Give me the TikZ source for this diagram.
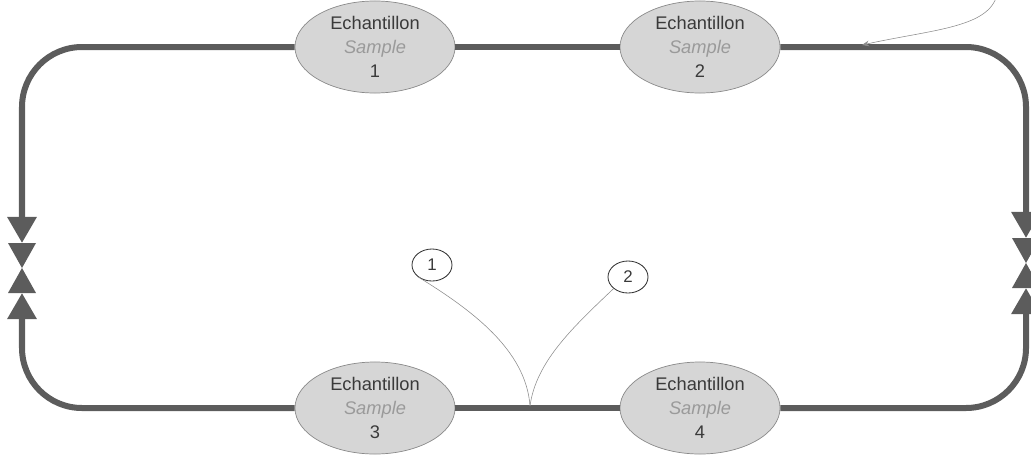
\documentclass[tikz,border=0pt]{standalone}
\usepackage{fontspec}
\setmainfont{Liberation Sans}
\usetikzlibrary{arrows.meta, shapes.geometric}

\definecolor{pipegray}{HTML}{5C5C5C}
\definecolor{samplefill}{HTML}{D6D6D6}
\definecolor{sampleline}{HTML}{8A8A8A}
\definecolor{textdark}{HTML}{3A3A3A}
\definecolor{textlight}{HTML}{9A9A9A}

\begin{document}
\begin{tikzpicture}[x=0.025cm, y=-0.025cm,
    sample/.style={ellipse, fill=samplefill, draw=sampleline, line width=0.5pt,
                   minimum width=4cm, minimum height=2.3cm, inner sep=0pt,
                   align=center, text=textdark,
                   font=\fontsize{13}{17}\selectfont},
    pipe/.style={draw=pipegray, line width=0.15cm, rounded corners=1.5cm},
    pipeend/.style={pipe, -{Triangle[length=0.65cm, width=0.7cm, fill=pipegray]}},
    valve/.style={fill=pipegray},
    tag/.style={ellipse, draw=black!80, line width=0.6pt, minimum width=1.0cm,
                minimum height=0.8cm, inner sep=0pt, text=textdark,
                font=\fontsize{12}{14}\selectfont},
    lead/.style={draw=black!45, line width=0.4pt}
  ]
    \useasboundingbox (0,0) rectangle (1031,461);

    % Samples on the loop
    \node[sample] (s1) at (375, 47)  {Echantillon\\\textcolor{textlight}{\textit{Sample}}\\1};
    \node[sample] (s2) at (700, 47)  {Echantillon\\\textcolor{textlight}{\textit{Sample}}\\2};
    \node[sample] (s3) at (375, 408) {Echantillon\\\textcolor{textlight}{\textit{Sample}}\\3};
    \node[sample] (s4) at (700, 408) {Echantillon\\\textcolor{textlight}{\textit{Sample}}\\4};

    % Valve ends on both sides
    \coordinate (ltop) at (22, 243);
    \coordinate (lmid) at (22, 268);
    \coordinate (lbot) at (22, 293);
    \coordinate (rtop) at (1026, 238);
    \coordinate (rmid) at (1026, 263);
    \coordinate (rbot) at (1026, 288);

    % Callouts
    \node[tag] (t1) at (432, 265) {1};
    \node[tag] (t2) at (628, 277) {2};
    \coordinate (joint) at (530, 406);
    \coordinate (topfree) at (996, -2);
    \coordinate (toptip) at (862, 45);

    % Pipe loop
    \draw[pipe] (s1) -- (s2);
    \draw[pipe] (s3) -- (s4);
    \draw[pipeend] (s1.west) -| (ltop);
    \draw[pipeend] (s3.west) -| (lbot);
    \draw[pipeend] (s2.east) -| (rtop);
    \draw[pipeend] (s4.east) -| (rbot);

    % Valves
    \fill[valve] (ltop) -- ++(-14,0) -- (lmid) -- ++(-14,25) -- ++(28,0) -- (lmid) -- ++(14,-25) -- cycle;
    \fill[valve] (rtop) -- ++(-14,0) -- (rmid) -- ++(-14,25) -- ++(28,0) -- (rmid) -- ++(14,-25) -- cycle;

    % Leader lines
    \draw[lead] (t1.south west) .. controls (472, 310) and (526, 350) .. (joint);
    \draw[lead] (t2.south west) .. controls (572, 328) and (536, 362) .. (joint);
    \draw[lead, -{Stealth[length=5pt, width=4pt]}] (topfree) .. controls (985, 28) and (930, 30) .. (toptip);
  \end{tikzpicture}
\end{document}
